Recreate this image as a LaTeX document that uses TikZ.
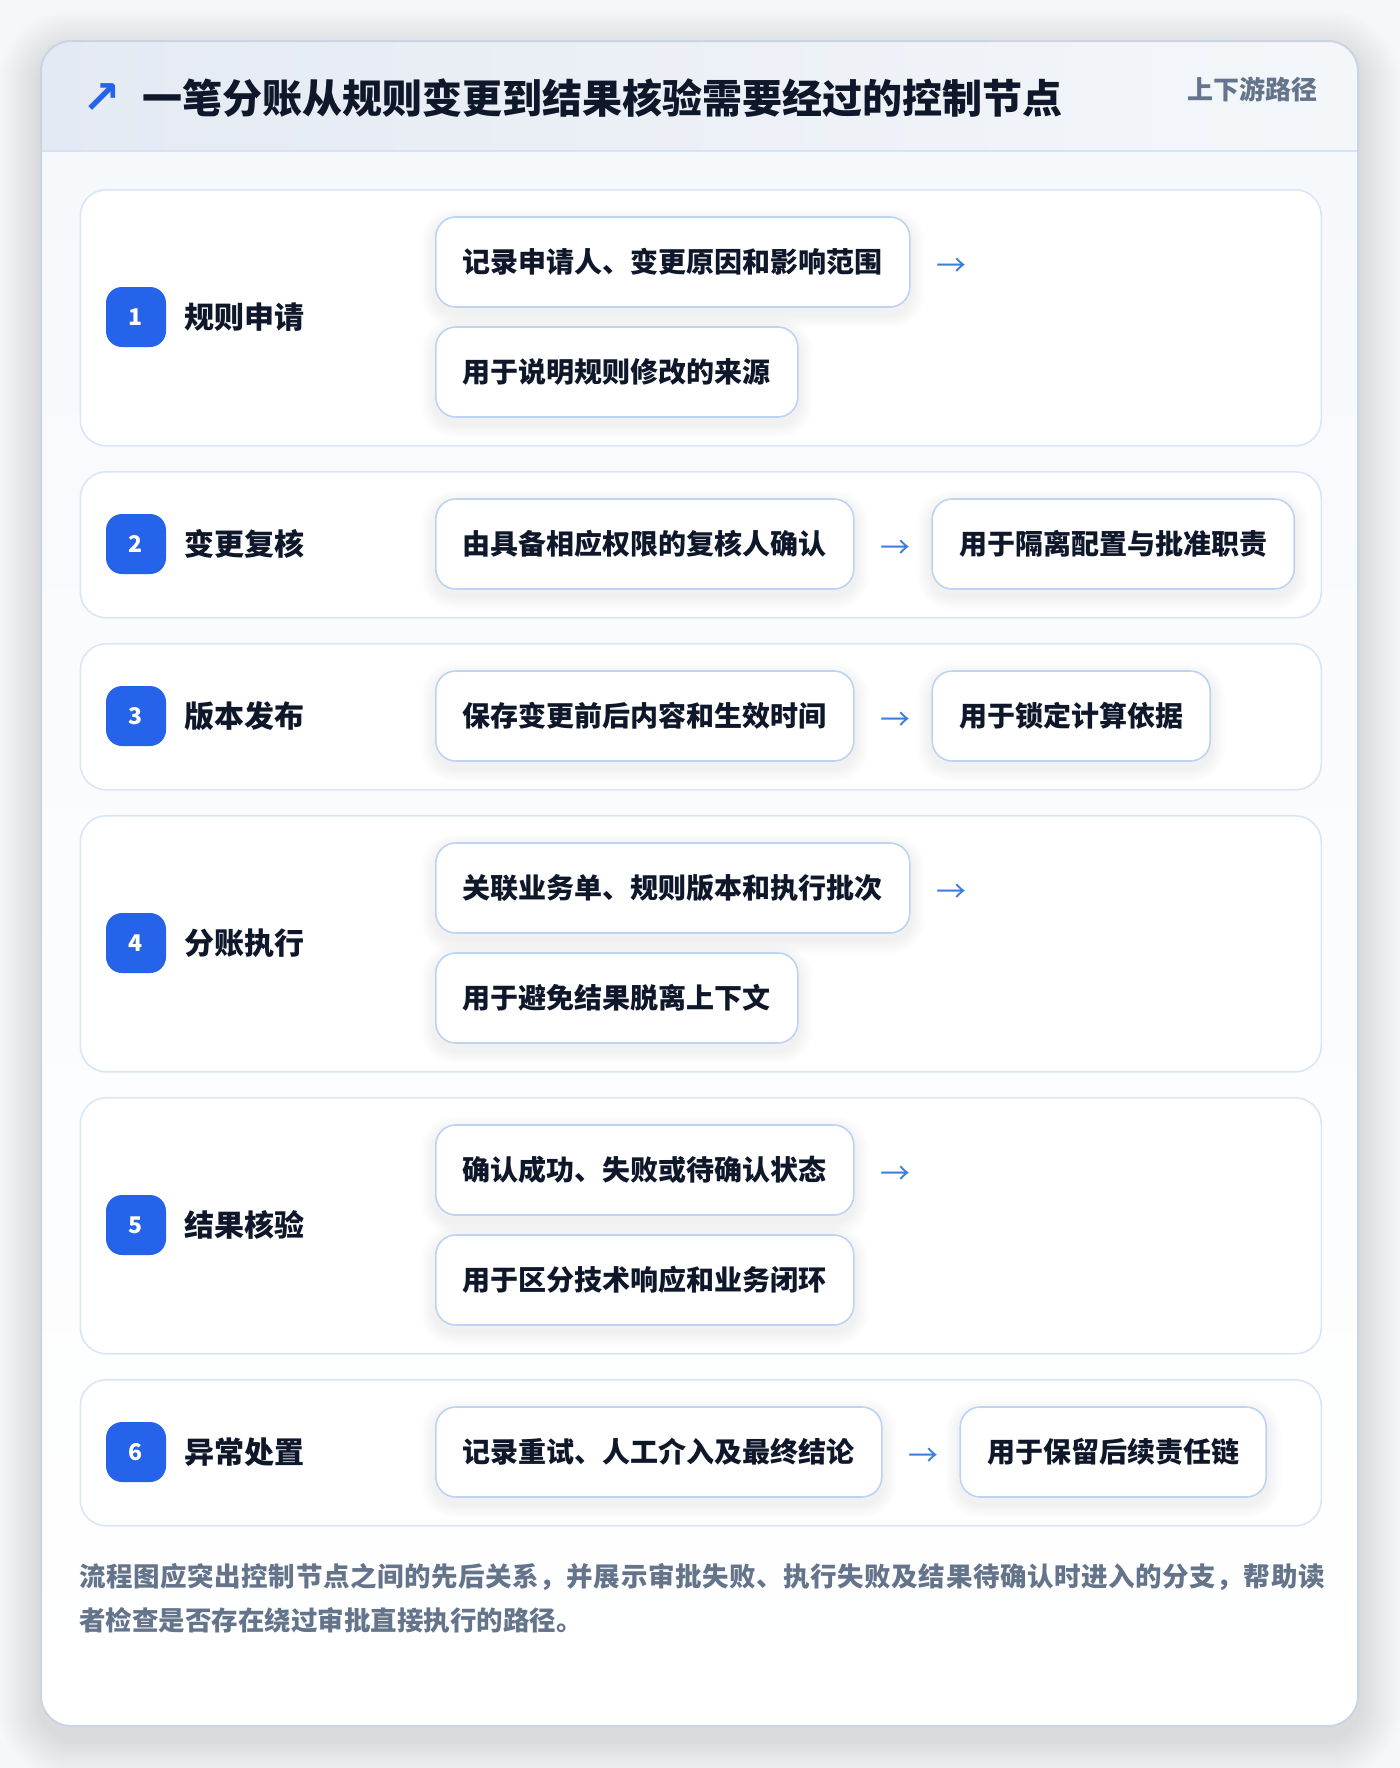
\documentclass[tikz,border=0pt]{standalone}
\usepackage{fontspec}
\setmainfont{Noto Sans CJK SC}
\newfontfamily\cjk{Noto Sans CJK SC}
\newfontfamily\dejavu{DejaVu Sans}
\usetikzlibrary{calc}

\definecolor{pagebg}{HTML}{F6F7F9}
\definecolor{cardborder}{HTML}{CAD4E2}
\definecolor{headL}{HTML}{E4EAF3}
\definecolor{headR}{HTML}{F4F7FA}
\definecolor{headline}{HTML}{D5E3F6}
\definecolor{bodytop}{HTML}{F6F9FC}
\definecolor{stepborder}{HTML}{D9E6F8}
\definecolor{boxborder}{HTML}{BCD3F3}
\definecolor{badgeblue}{HTML}{2563EB}
\definecolor{ink}{HTML}{0F172A}
\definecolor{muted}{HTML}{64748B}
\definecolor{arrowc}{HTML}{3B7DDD}
\definecolor{shadowc}{HTML}{1E293B}

\pgfdeclarelayer{bglayer}
\pgfdeclarelayer{shadlayer}
\pgfsetlayers{bglayer,shadlayer,main}

\tikzset{
  stepcard/.style={draw=stepborder, fill=white, line width=0.8pt, rounded corners=13pt,
    minimum width=620.5pt, inner sep=0pt, anchor=north west},
  infobox/.style={draw=boxborder, fill=white, line width=0.8pt, rounded corners=10pt,
    minimum height=45pt, inner xsep=13.5pt, inner ysep=0pt, anchor=west, text=ink,
    font=\cjk\bfseries\fontsize{14pt}{16pt}\selectfont},
  badgenode/.style={fill=badgeblue, rounded corners=8pt, minimum size=30pt, inner sep=0pt,
    text=white, font=\cjk\bfseries\fontsize{11.5pt}{13pt}\selectfont},
  steplabel/.style={anchor=west, inner sep=0pt, text=ink,
    font=\cjk\bfseries\fontsize{15pt}{17pt}\selectfont},
  flowarrow/.style={anchor=west, inner sep=0pt, minimum width=15pt, text=arrowc,
    font=\cjk\fontsize{15pt}{17pt}\selectfont},
  footnote/.style={anchor=west, inner sep=0pt, text=muted,
    font=\cjk\bfseries\fontsize{13.25pt}{15pt}\selectfont},
}

\newcommand\boxshadow[1]{%
  \begin{pgfonlayer}{shadlayer}
    \foreach \s in {1,...,7}{%
      \fill[shadowc, opacity=0.009, rounded corners={(10+\s)*1pt}]
        ($(#1.south west)+(-\s pt,-\s pt-3pt)$) rectangle ($(#1.north east)+(\s pt,\s pt-3pt)$);
    }
  \end{pgfonlayer}}

\begin{document}
\begin{tikzpicture}[x=0.5pt,y=-0.5pt]
\useasboundingbox (0,0) rectangle (1400,1768);

\begin{pgfonlayer}{bglayer}
\fill[pagebg] (0,0) rectangle (1400,1768);
% main card shadow
\foreach \s in {1,...,14}{%
  \fill[shadowc, opacity=0.006, rounded corners={(15+\s*1.5)*1pt}]
    ($(41,41)+(-\s*1.5pt,\s*1.5pt-6pt)$) rectangle ($(1358,1726)+(\s*1.5pt,-\s*1.5pt-6pt)$);
}
\fill[white, rounded corners=15pt] (41,41) rectangle (1358,1726);
\begin{scope}
  \clip[rounded corners=15pt] (41,41) rectangle (1358,1726);
  \shade[top color=bodytop, bottom color=white] (41,151) rectangle (1358,1726);
  \shade[left color=headL, right color=headR] (41,41) rectangle (1358,151);
\end{scope}
\draw[headline, line width=1pt] (41,151) -- (1358,151);
\draw[cardborder, rounded corners=15pt, line width=1pt] (41,41) rectangle (1358,1726);

% step cards
\node[stepcard, minimum height=128pt] (c1) at (79.5,189) {};
\node[stepcard, minimum height=73pt]  (c2) at (79.5,471) {};
\node[stepcard, minimum height=73pt]  (c3) at (79.5,643) {};
\node[stepcard, minimum height=128pt] (c4) at (79.5,815) {};
\node[stepcard, minimum height=128pt] (c5) at (79.5,1097) {};
\node[stepcard, minimum height=73pt]  (c6) at (79.5,1379) {};
\end{pgfonlayer}

% header
\node[inner sep=0pt, text=badgeblue, font=\dejavu\bfseries\fontsize{23pt}{25pt}\selectfont] (icon) at (102,99) {↗};
\node[anchor=west, inner sep=0pt, text=ink, font=\cjk\bfseries\fontsize{20pt}{24pt}\selectfont] (title) at (142,98)
  {一笔分账从规则变更到结果核验需要经过的控制节点};
\node[anchor=east, inner sep=0pt, text=muted, font=\cjk\bfseries\fontsize{13pt}{15pt}\selectfont] (tag) at (1318,89)
  {上下游路径};

% badges and labels
\node[badgenode] (n1) at (136,317) {1};
\node[steplabel] (l1) at (184,317) {规则申请};
\node[badgenode] (n2) at (136,544) {2};
\node[steplabel] (l2) at (184,544) {变更复核};
\node[badgenode] (n3) at (136,716) {3};
\node[steplabel] (l3) at (184,716) {版本发布};
\node[badgenode] (n4) at (136,943) {4};
\node[steplabel] (l4) at (184,943) {分账执行};
\node[badgenode] (n5) at (136,1225) {5};
\node[steplabel] (l5) at (184,1225) {结果核验};
\node[badgenode] (n6) at (136,1452) {6};
\node[steplabel] (l6) at (184,1452) {异常处置};

% step 1
\node[infobox] (b1a) at (435,262) {记录申请人、变更原因和影响范围};
\node[flowarrow] (a1) at ($(b1a.east)+(12.5pt,-2.5pt)$) {→};
\node[infobox] (b1b) at (435,372) {用于说明规则修改的来源};

% step 2
\node[infobox] (b2a) at (435,544) {由具备相应权限的复核人确认};
\node[flowarrow] (a2) at ($(b2a.east)+(12.5pt,-2.5pt)$) {→};
\node[infobox] (b2b) at ($(a2.east |- b2a.east)+(10.5pt,0pt)$) {用于隔离配置与批准职责};

% step 3
\node[infobox] (b3a) at (435,716) {保存变更前后内容和生效时间};
\node[flowarrow] (a3) at ($(b3a.east)+(12.5pt,-2.5pt)$) {→};
\node[infobox] (b3b) at ($(a3.east |- b3a.east)+(10.5pt,0pt)$) {用于锁定计算依据};

% step 4
\node[infobox] (b4a) at (435,888) {关联业务单、规则版本和执行批次};
\node[flowarrow] (a4) at ($(b4a.east)+(12.5pt,-2.5pt)$) {→};
\node[infobox] (b4b) at (435,998) {用于避免结果脱离上下文};

% step 5
\node[infobox] (b5a) at (435,1170) {确认成功、失败或待确认状态};
\node[flowarrow] (a5) at ($(b5a.east)+(12.5pt,-2.5pt)$) {→};
\node[infobox] (b5b) at (435,1280) {用于区分技术响应和业务闭环};

% step 6
\node[infobox] (b6a) at (435,1452) {记录重试、人工介入及最终结论};
\node[flowarrow] (a6) at ($(b6a.east)+(12.5pt,-2.5pt)$) {→};
\node[infobox] (b6b) at ($(a6.east |- b6a.east)+(10.5pt,0pt)$) {用于保留后续责任链};

\boxshadow{b1a}\boxshadow{b1b}\boxshadow{b2a}\boxshadow{b2b}
\boxshadow{b3a}\boxshadow{b3b}\boxshadow{b4a}\boxshadow{b4b}
\boxshadow{b5a}\boxshadow{b5b}\boxshadow{b6a}\boxshadow{b6b}

% footer
\node[footnote] (f1) at (79,1577)
  {\addfontfeature{LetterSpace=2.2}流程图应突出控制节点之间的先后关系，并展示审批失败、执行失败及结果待确认时进入的分支，帮助读};
\node[footnote] (f2) at (79,1620)
  {者检查是否存在绕过审批直接执行的路径。};
\end{tikzpicture}
\end{document}
